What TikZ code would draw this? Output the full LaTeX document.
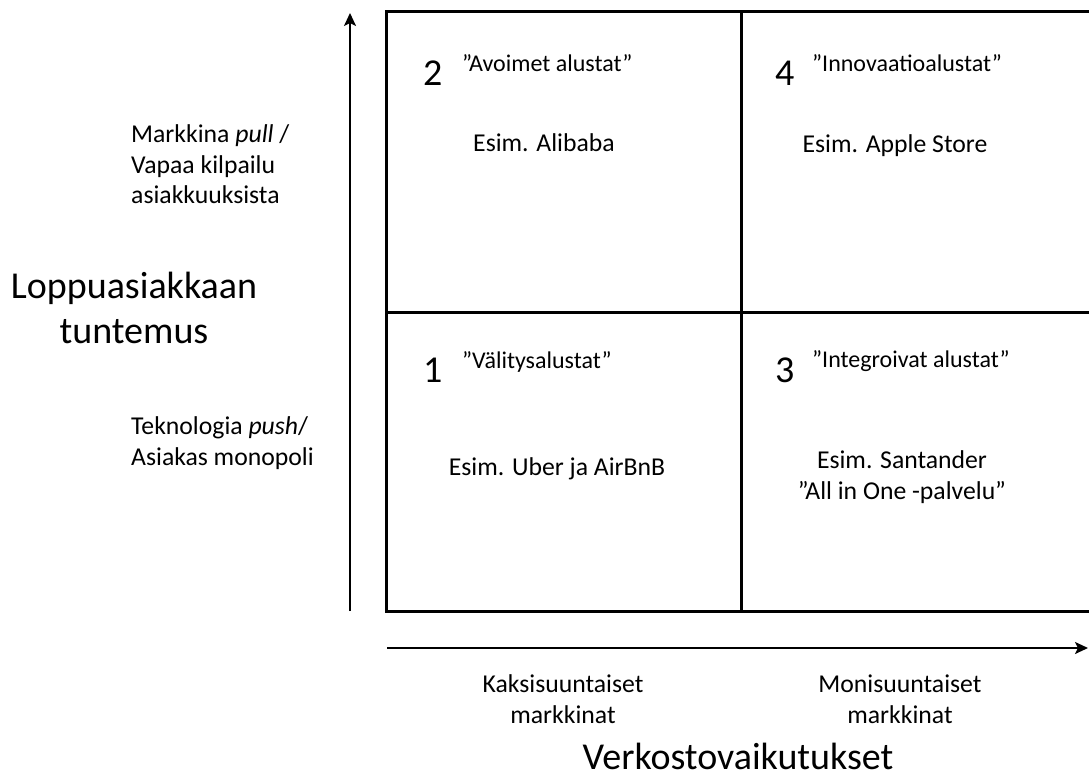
\documentclass[tikz,border=0pt]{standalone}
\usepackage{fontspec}
\setmainfont{Carlito}
\usetikzlibrary{arrows.meta,positioning}

\begin{document}
\begin{tikzpicture}[
  x=1pt, y=-1pt,
  >={Stealth[length=13pt,width=12pt,inset=3pt]},
  txt/.style={font=\fontsize{25.7}{30.5}\selectfont, inner sep=0pt, anchor=base},
  big/.style={font=\fontsize{38}{45}\selectfont, inner sep=0pt, anchor=base},
  num/.style={big, anchor=base west},
  tag/.style={font=\fontsize{24}{29}\selectfont, inner sep=0pt, anchor=base west},
  gridline/.style={line width=3pt},
  axis/.style={line width=2pt, ->}
]
\clip (0,0) rectangle (1089,778);

% quadrants
\draw[gridline] (386,12) rectangle (1100,611);
\draw[gridline] (741,12) -- (741,611);
\draw[gridline] (386,312) -- (1100,312);

\node[num] (n2) at (423,86) {2};
  \node[tag] (t2) at (462,72) {”Avoimet alustat”};
  \node[txt] (e2) at (544,152) {Esim. Alibaba};
\node[num] (n4) at (775,86) {4};
  \node[tag] (t4) at (812,72) {”Innovaatioalustat”};
  \node[txt] (e4) at (895,153) {Esim. Apple Store};
\node[num] (n1) at (423,382) {1};
  \node[tag] (t1) at (462,368) {”Välitysalustat”};
  \node[txt] (e1) at (557,475) {Esim. Uber ja AirBnB};
\node[num] (n3) at (775,382) {3};
  \node[tag] (t3) at (812,367) {”Integroivat alustat”};
  \node[txt, align=center] (e3) at (902,499) {Esim. Santander\\”All in One -palvelu”};

% axes
\coordinate (y0) at (350,611);
\coordinate (y1) at (350,13);
\coordinate (x0) at (387,648);
\coordinate (x1) at (1088,648);
\draw[axis] (y0) -- (y1);
\draw[axis] (x0) -- (x1);

\node[big, align=center] (ylab) at (134,343) {Loppuasiakkaan\\tuntemus};
\node[txt, anchor=base west, align=left] (yhi) at (131,204) {Markkina \textit{pull} /\\Vapaa kilpailu\\asiakkuuksista};
\node[txt, anchor=base west, align=left] (ylo) at (131,465) {Teknologia \textit{push}/\\Asiakas monopoli};

\node[txt, align=center] (xlo) at (563,723) {Kaksisuuntaiset\\markkinat};
\node[txt, align=center] (xhi) at (900,723) {Monisuuntaiset\\markkinat};
\node[big] (xlab) at (738,769) {Verkostovaikutukset};
\end{tikzpicture}
\end{document}
